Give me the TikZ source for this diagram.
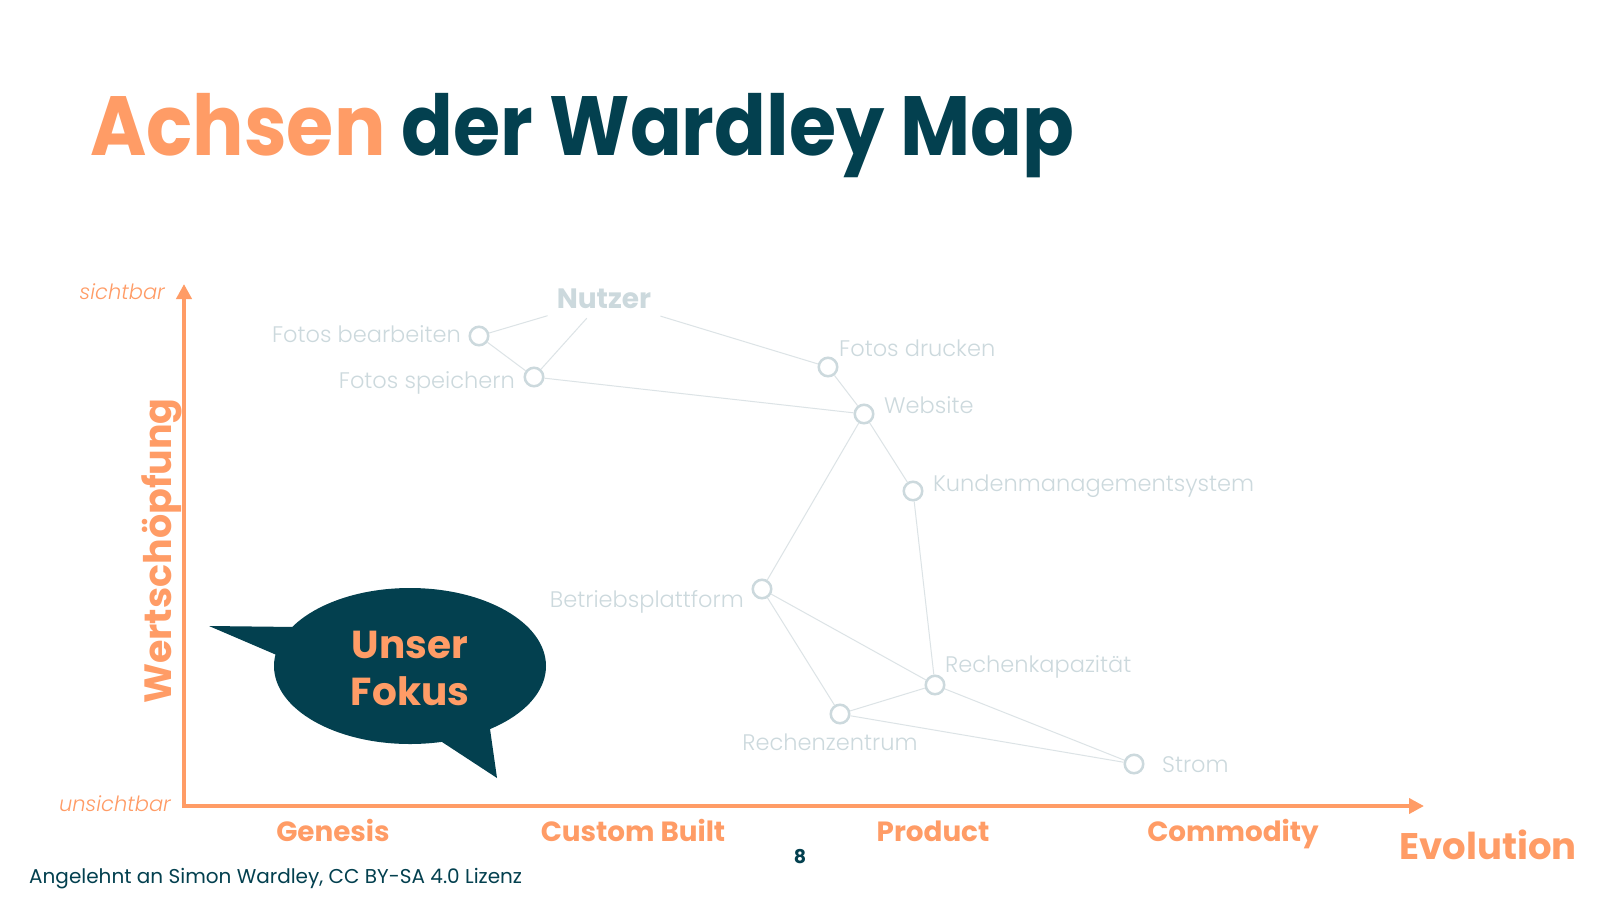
\documentclass[tikz,border=0pt]{standalone}
\usepackage{fontspec}
\setmainfont{Poppins}
\newfontfamily\lightfont{Poppins Light}
\usetikzlibrary{arrows.meta,calc}
\definecolor{orng}{HTML}{FF9C66}
\definecolor{dteal}{HTML}{03404F}
\definecolor{ngray}{HTML}{CCD9DD}
\definecolor{egray}{HTML}{DCE3E6}
\begin{document}
\begin{tikzpicture}[x=1pt,y=-1pt,
  comp/.style={circle,draw=ngray,line width=2.5pt,fill=white,minimum size=18.5pt,inner sep=0pt},
  lbl/.style={font=\lightfont\fontsize{22.5}{26}\selectfont,text=ngray,inner sep=0pt},
  edge/.style={draw=egray,line width=1pt},
  axisline/.style={draw=orng,line width=4pt,-{Triangle[length=15pt,width=15pt]}},
  stage/.style={font=\bfseries\fontsize{27.8}{32}\selectfont,text=orng,inner sep=0pt,anchor=base},
  visi/.style={font=\lightfont\itshape\fontsize{21}{25}\selectfont,text=orng,inner sep=0pt,anchor=base east}
]
\useasboundingbox (0,0) rectangle (1600,900);
\fill[white] (0,0) rectangle (1600,900);

% title
\node[anchor=base west,inner sep=0pt,font=\bfseries\fontsize{84}{90}\selectfont,text=dteal] (title) at (90,155) {\scalebox{0.91}[1]{\textcolor{orng}{Achsen} der Wardley Map}};

% axes
\coordinate (origin) at (184,806);
\coordinate (ytop) at (184,284);
\coordinate (xend) at (1424,806);
\draw[axisline] ($(origin)+(0,2)$) -- (ytop);
\draw[axisline] ($(origin)+(-2,0)$) -- (xend);

\node[visi] (sicht) at (165,299) {sichtbar};
\node[visi] (unsicht) at (171,811) {unsichtbar};
\node[font=\bfseries\fontsize{38}{40}\selectfont,text=orng,inner sep=0pt,rotate=90,anchor=base] (wert) at (171,551) {Wertschöpfung};

\node[stage] (gen) at (333,841) {Genesis};
\node[stage] (cb) at (633,841) {Custom Built};
\node[stage] (prod) at (933,841) {Product};
\node[stage] (comm) at (1233,841) {Commodity};
\node[font=\bfseries\fontsize{37}{40}\selectfont,text=orng,inner sep=0pt,anchor=base] (evo) at (1488,859) {Evolution};

\node[font=\bfseries\fontsize{19}{22}\selectfont,text=dteal,inner sep=0pt,anchor=base] (page) at (800,863) {8};
\node[font=\fontsize{20}{24}\selectfont,text=dteal,inner sep=0pt,anchor=base west] (foot) at (29,883) {Angelehnt an Simon Wardley, CC BY-SA 4.0 Lizenz};

% value chain
\node[font=\bfseries\fontsize{28}{30}\selectfont,text=ngray,inner sep=9pt] (nutzer) at (604,299) {Nutzer};
\node[comp] (fb) at (479,336) {};
\node[comp] (fs) at (534,377) {};
\node[comp] (fd) at (828,367) {};
\node[comp] (web) at (864,414) {};
\node[comp] (crm) at (913,491) {};
\node[comp] (bp) at (762,589) {};
\node[comp] (rk) at (935,685) {};
\node[comp] (rz) at (840,714) {};
\node[comp] (strom) at (1134,764) {};

\node[lbl,anchor=base east] (fbl) at (461,342) {Fotos bearbeiten};
\node[lbl,anchor=base east] (fsl) at (515,388) {Fotos speichern};
\node[lbl,anchor=base west] (fdl) at (839,356) {Fotos drucken};
\node[lbl,anchor=base west] (webl) at (884,413) {Website};
\node[lbl,anchor=base west] (crml) at (933,491) {Kundenmanagementsystem};
\node[lbl,anchor=base east] (bpl) at (744,607) {Betriebsplattform};
\node[lbl,anchor=base west] (rkl) at (945,672) {Rechenkapazität};
\node[lbl,anchor=base] (rzl) at (830,750) {Rechenzentrum};
\node[lbl,anchor=base west] (stroml) at (1162,772) {Strom};

\draw[edge] (nutzer) -- (fb);
\draw[edge] (nutzer) -- (fs);
\draw[edge] (nutzer) -- (fd);
\draw[edge] (fb) -- (fs);
\draw[edge] (fs) -- (web);
\draw[edge] (fd) -- (web);
\draw[edge] (web) -- (crm);
\draw[edge] (web) -- (bp);
\draw[edge] (crm) -- (rk);
\draw[edge] (bp) -- (rk);
\draw[edge] (bp) -- (rz);
\draw[edge] (rz) -- (rk);
\draw[edge] (rk) -- (strom);
\draw[edge] (rz) -- (strom);

% speech bubble
\fill[dteal] (410,666) ellipse [x radius=136, y radius=78];
\fill[dteal] (209,626) -- (296,627) -- (330,650) -- (279,656) -- cycle;
\fill[dteal] (497,778) -- (439,740) -- (470,700) -- (490,729) -- cycle;
\node[font=\bfseries\fontsize{39}{47}\selectfont,text=orng,align=center,inner sep=0pt] (fokus) at (410,668) {Unser\\Fokus};
\end{tikzpicture}
\end{document}
